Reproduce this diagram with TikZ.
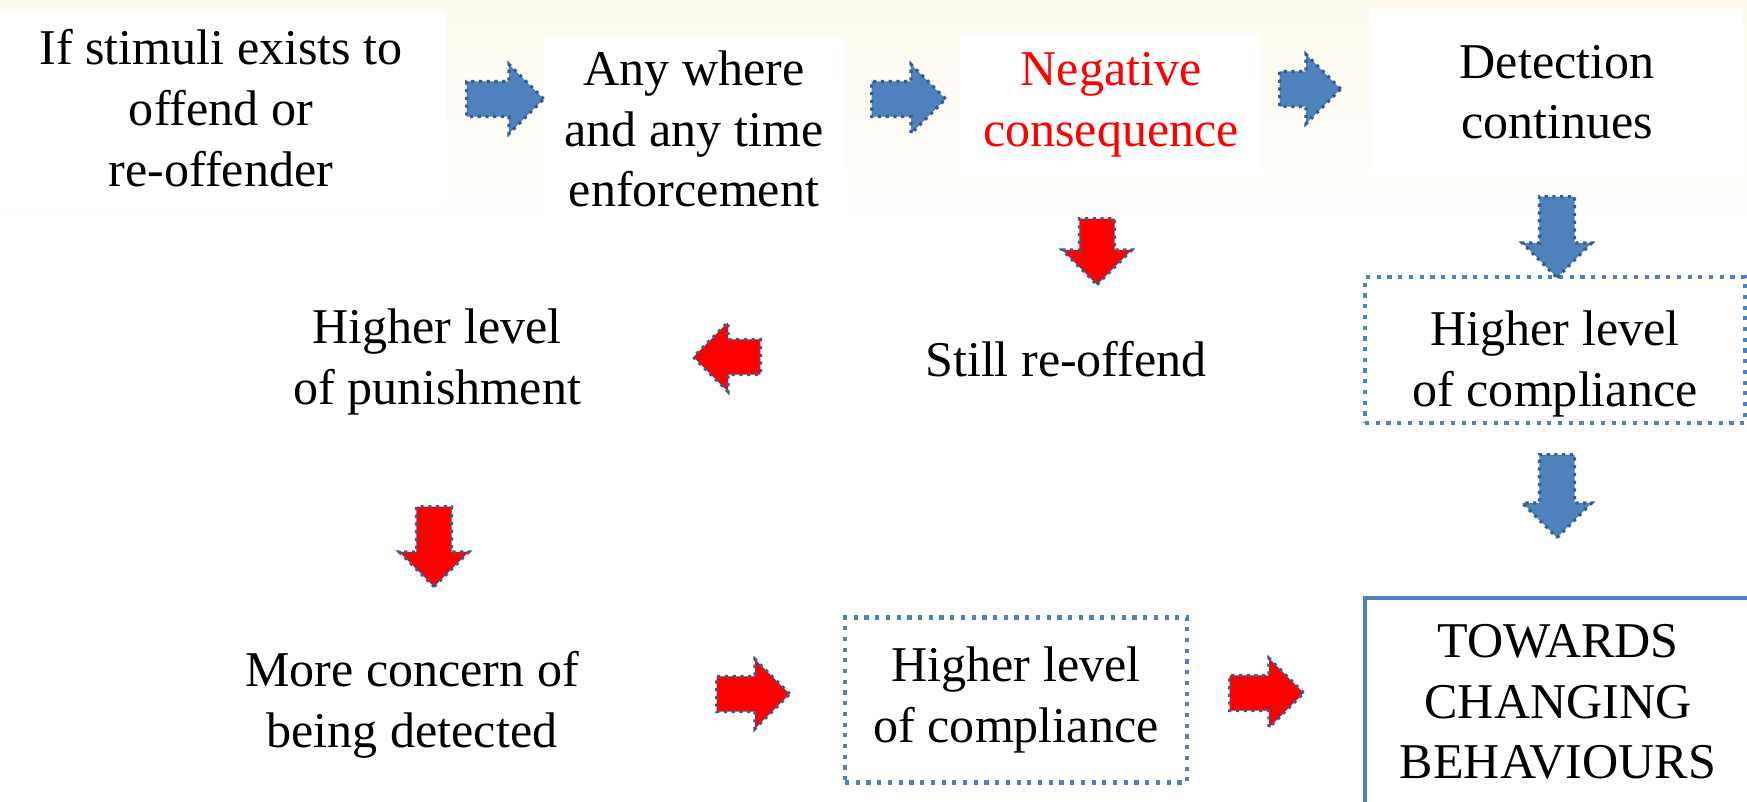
\documentclass[tikz,border=0pt]{standalone}
\usepackage{fontspec}
\setmainfont{Liberation Serif}
\usetikzlibrary{shapes.arrows}
\definecolor{officeblue}{HTML}{4F81BD}
\definecolor{arrowedge}{HTML}{385D8A}
\definecolor{cream}{HTML}{FEFAEE}

\begin{document}
\begin{tikzpicture}[
    x = 0.02cm,
    y = -0.02cm,
    align = center,
    font = \fontsize{28.5}{34.5}\selectfont,
    panel/.style = {fill = white, inner sep = 0pt},
    plain/.style = {inner sep = 0pt},
    dotbox/.style = {draw = officeblue, line width = 2.4pt, dash pattern = on 2.4pt off 3.7pt},
    goalbox/.style = {draw = officeblue, line width = 2.3pt},
    blockarrow/.style = {single arrow, draw = arrowedge, line width = 1.8pt,
      dash pattern = on 1.8pt off 2.6pt, inner xsep = 0pt, inner ysep = 0.32cm,
      single arrow head extend = 0.34cm, anchor = tail},
    bluearrow/.style = {blockarrow, fill = officeblue},
    redarrow/.style = {blockarrow, fill = red}
  ]
    \useasboundingbox (0, 0) rectangle (1747, 801);
    \fill[white] (0, 0) rectangle (1747, 801);
    \shade[top color = cream, bottom color = white] (0, 0) rectangle (1747, 240);

    \node[panel, minimum width = 9cm, minimum height = 3.84cm] (stimuli) at (221, 108) {If stimuli exists to\\offend or\\re-offender};
    \node[panel, minimum width = 6.05cm, minimum height = 3.66cm] (anywhere) at (694, 129) {Any where\\and any time\\enforcement};
    \node[panel, minimum width = 6cm, minimum height = 2.84cm, text = red] (negative) at (1111, 105) {Negative\\consequence};
    \node[panel, minimum width = 7.46cm, minimum height = 3.36cm] (detection) at (1557, 92) {Detection\\continues};
    \node[plain] (reoffend) at (1066, 359) {Still re-offend};
    \node[plain] (punishment) at (437, 362) {Higher level\\of punishment};
    \node[dotbox, minimum width = 7.6cm, minimum height = 2.64cm, text height = 70pt, text depth = 6.2pt] (compliance_right) at (1555, 350) {Higher level\\of compliance};
    \node[plain] (concern) at (412, 705) {More concern of\\being detected};
    \node[dotbox, minimum width = 6.84cm, minimum height = 3.3cm] (compliance_bottom) at (1016, 700) {Higher level\\of compliance};
    \node[goalbox, minimum width = 7.74cm, minimum height = 4.16cm] (towards) at (1558, 702) {TOWARDS\\CHANGING\\BEHAVIOURS};

    \node[bluearrow, minimum height = 1.54cm] (stimuli_anywhere) at (465, 99) {};
    \node[bluearrow, minimum height = 1.48cm] (anywhere_negative) at (870, 99) {};
    \node[bluearrow, minimum height = 1.22cm] (negative_detection) at (1278, 89) {};
    \node[bluearrow, minimum height = 1.62cm, rotate = -90] (detection_compliance) at (1557, 195) {};
    \node[redarrow, minimum height = 1.32cm, rotate = -90] (negative_reoffend) at (1097, 217) {};
    \node[redarrow, minimum height = 1.34cm, rotate = 180] (reoffend_punishment) at (762, 357) {};
    \node[bluearrow, minimum height = 1.66cm, rotate = -90] (compliance_towards) at (1557, 453) {};
    \node[redarrow, minimum height = 1.6cm, rotate = -90] (punishment_concern) at (434, 505) {};
    \node[redarrow, minimum height = 1.46cm] (concern_compliance) at (715, 694) {};
    \node[redarrow, minimum height = 1.48cm] (compliance_goal) at (1228, 693) {};
  \end{tikzpicture}
\end{document}
